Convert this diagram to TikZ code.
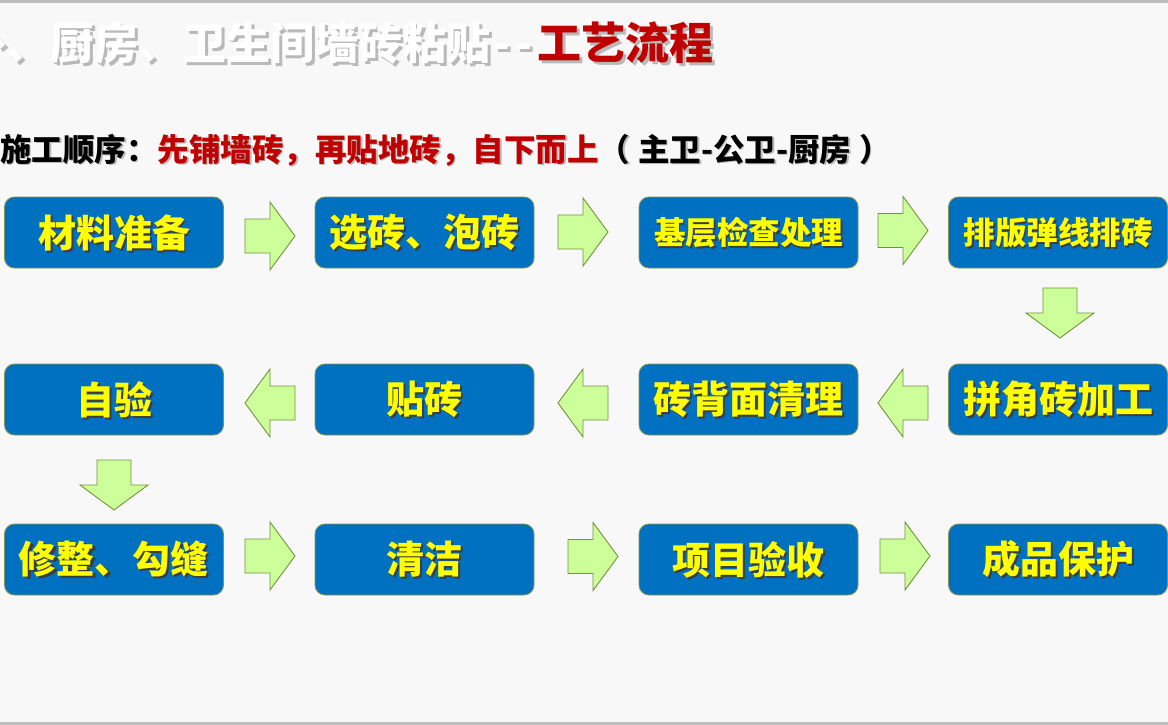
\documentclass[tikz,border=0pt]{standalone}
\usepackage{fontspec}
\newfontfamily\cjk{Noto Sans CJK SC}
\usetikzlibrary{calc}
\definecolor{bg}{RGB}{248,248,248}
\definecolor{edgegray}{RGB}{190,190,190}
\definecolor{boxblue}{RGB}{0,112,192}
\definecolor{boxedge}{RGB}{128,150,84}
\definecolor{arrowfill}{RGB}{204,255,153}
\definecolor{arrowedge}{RGB}{118,146,60}
\definecolor{darkred}{RGB}{192,0,0}
\definecolor{textyellow}{RGB}{255,255,0}
\definecolor{shadowdark}{RGB}{60,60,60}
\newcommand\blkarrow[3]{\draw[blockarr,shift={(#1,#2)},rotate=#3] (0,0) -- (-25,-34) -- (-25,-17) -- (-50,-17) -- (-50,17) -- (-25,17) -- (-25,34) -- cycle;}
\newcommand\twodash{\makebox[22pt]{-}\makebox[22pt]{-}}
\begin{document}
\begin{tikzpicture}[x=1pt,y=-1pt,
  box/.style={draw=boxedge, line width=0.9pt, fill=boxblue, rounded corners=10pt,
    minimum width=219pt, minimum height=71pt, inner sep=0pt},
  btxt/.style={inner sep=0pt, font=\cjk\bfseries\fontsize{38}{40}\selectfont, text=textyellow},
  bsh/.style={inner sep=0pt, font=\cjk\bfseries\fontsize{38}{40}\selectfont, text=shadowdark},
  stxt/.style={inner sep=0pt, font=\cjk\bfseries\fontsize{31.5}{34}\selectfont, text=textyellow},
  ssh/.style={inner sep=0pt, font=\cjk\bfseries\fontsize{31.5}{34}\selectfont, text=shadowdark},
  blockarr/.style={draw=arrowedge, line width=0.9pt, fill=arrowfill, line join=miter},
  ttl/.style={inner sep=0pt, font=\cjk\bfseries\fontsize{44}{46}\selectfont},
  sub/.style={inner sep=0pt, font=\cjk\bfseries\fontsize{31.5}{34}\selectfont}
]
\useasboundingbox (0,0) rectangle (1168,725);
\clip (0,0) rectangle (1168,725);
\fill[bg] (0,0) rectangle (1168,725);
\fill[edgegray] (0,0) rectangle (1168,3);
\fill[edgegray] (0,722) rectangle (1168,725);

% title
\node[ttl, text=gray!55, anchor=base east] (tsh) at (493.5,63) {外、厨房、卫生间墙砖粘贴};
\node[ttl, text=gray!55, anchor=base west] (tsh1) at (493.5,63) {\twodash};
\node[ttl, text=gray!55, anchor=base west] (tsh2) at (540,63) {工艺流程};
\node[ttl, text=white, anchor=base east] (t1) at (490.5,60) {外、厨房、卫生间墙砖粘贴};
\node[ttl, text=white, anchor=base west] (td) at (490.5,60) {\twodash};
\node[ttl, text=darkred, anchor=base west] (t2) at (537,60) {工艺流程};

% subtitle
\node[sub, text=gray!55, anchor=base west] (ssh0) at (1.5,162.5) {施工顺序：先铺墙砖，再贴地砖，自下而上（\hspace{8pt}主卫-公卫-厨房\hspace{8pt}）};
\node[sub, anchor=base west] (s1) at (0,161) {\color{black}施工顺序：\color{darkred}先铺墙砖，再贴地砖，自下而上\color{black}（\hspace{8pt}主卫-公卫-厨房\hspace{8pt}）};

% boxes
\foreach \n/\x/\y in {a/114/232.5, b/424.5/232.5, c/748.5/232.5, d/1058/232.5,
                      e/1058/399.5, f/748.5/399.5, g/424.5/399.5, h/114/399.5,
                      i/114/559.5, j/424.5/559.5, k/748.5/559.5, l/1058/559.5}
  \node[box] (\n) at (\x,\y) {};

\foreach \n/\t in {a/材料准备, b/选砖、泡砖, e/拼角砖加工, f/砖背面清理, g/贴砖, h/自验,
                   i/修整、勾缝, j/清洁, k/项目验收, l/成品保护}{
  \node[bsh] (\n sh) at ($(\n.center)+(2,2)$) {\t};
  \node[btxt] (\n t) at (\n.center) {\t};
}
\foreach \n/\t in {c/基层检查处理, d/排版弹线排砖}{
  \node[ssh] (\n sh) at ($(\n.center)+(1.8,1.8)$) {\t};
  \node[stxt] (\n t) at (\n.center) {\t};
}

% block arrows (tip x, tip y, direction)
\blkarrow{295}{236}{0}
\blkarrow{608}{232}{0}
\blkarrow{928}{230.5}{0}
\blkarrow{1060}{338}{-90}
\blkarrow{878}{403}{180}
\blkarrow{558}{403}{180}
\blkarrow{245}{403}{180}
\blkarrow{114}{510}{-90}
\blkarrow{295}{556}{0}
\blkarrow{618}{556.5}{0}
\blkarrow{930}{556}{0}
\end{tikzpicture}
\end{document}
